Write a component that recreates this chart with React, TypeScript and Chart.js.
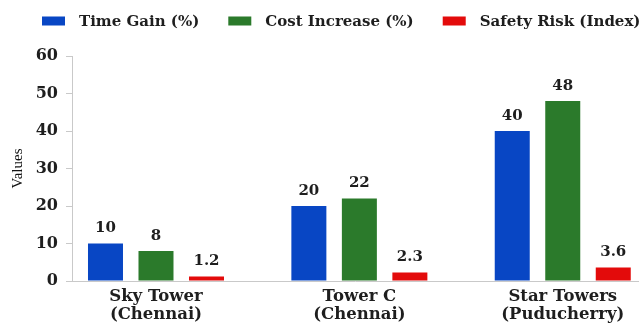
import { useEffect, useRef } from "react";
import { Chart, registerables } from "chart.js";

Chart.register(...registerables);

// Projects and their two-line axis labels
const categories: string[][] = [
  ["Sky Tower", "(Chennai)"],
  ["Tower C", "(Chennai)"],
  ["Star Towers", "(Puducherry)"],
];

const seriesNames = ["Time Gain (%)", "Cost Increase (%)", "Safety Risk (Index)"];
const timeGain = [10, 20, 40];
const costIncrease = [8, 22, 48];
const safetyRisk = [1.2, 2.3, 3.6];
const seriesColors = ["#0846c4", "#2b7a2b", "#e30b0b"];

const yMin = 0;
const yMax = 60;
const yStep = 10;

const SERIF = "'DejaVu Serif', serif";

// Value printed above each bar
const valueLabels = {
  id: "valueLabels",
  afterDatasetsDraw(chart: any) {
    const ctx = chart.ctx;
    ctx.save();
    ctx.font = `bold 15px ${SERIF}`;
    ctx.fillStyle = "#1e1e1e";
    ctx.textAlign = "center";
    ctx.textBaseline = "middle";
    chart.data.datasets.forEach((ds: any, di: number) => {
      const meta = chart.getDatasetMeta(di);
      meta.data.forEach((bar: any, i: number) => {
        const v = ds.data[i].y;
        ctx.fillText(String(v), bar.x, bar.y - 15);
      });
    });
    ctx.restore();
  },
};

// Legend row across the top: small swatch, then the series name
const topLegend = {
  id: "topLegend",
  afterDraw(chart: any) {
    const ctx = chart.ctx;
    ctx.save();
    ctx.font = `bold 15px ${SERIF}`;
    ctx.textBaseline = "middle";
    ctx.textAlign = "left";
    const boxW = 23;
    const boxH = 9;
    const textGap = 14;
    const itemGap = 29;
    const cy = 21;
    let x = 42;
    chart.data.datasets.forEach((ds: any) => {
      ctx.fillStyle = ds.backgroundColor;
      ctx.fillRect(x, cy - boxH / 2, boxW, boxH);
      x += boxW + textGap;
      ctx.fillStyle = "#1e1e1e";
      ctx.fillText(ds.label, x, cy + 1);
      x += ctx.measureText(ds.label).width + itemGap;
    });
    ctx.restore();
  },
};

export default function App() {
  const canvasRef = useRef<HTMLCanvasElement | null>(null);

  useEffect(() => {
    const canvas = canvasRef.current;
    if (!canvas) return;
    const seriesValues = [timeGain, costIncrease, safetyRisk];
    const chart = new Chart(canvas, {
      type: "bar",
      data: {
        datasets: seriesValues.map((vals, si) => ({
          label: seriesNames[si],
          data: vals.map((y, x) => ({ x, y })),
          backgroundColor: seriesColors[si],
          borderWidth: 0,
          categoryPercentage: 0.745,
          barPercentage: 0.693,
        })),
      },
      options: {
        responsive: false,
        animation: false,
        layout: { padding: { top: 56, right: 4, bottom: 0, left: 0 } },
        plugins: {
          legend: { display: false },
          tooltip: { enabled: false },
        },
        scales: {
          x: {
            type: "linear",
            min: -0.413,
            max: 2.37,
            offset: false,
            afterBuildTicks: (scale: any) => {
              scale.ticks = categories.map((_, i) => ({ value: i }));
            },
            afterFit: (scale: any) => {
              scale.height = 43;
            },
            grid: { display: false, drawTicks: false },
            border: { display: true, color: "#c9c9c9", width: 1 },
            ticks: {
              autoSkip: false,
              maxRotation: 0,
              padding: 7,
              color: "#1e1e1e",
              font: { family: SERIF, size: 16.5, weight: "bold", lineHeight: 1.09 },
              callback: (v: any) => categories[v as number] ?? "",
            },
          },
          y: {
            min: yMin,
            max: yMax,
            afterFit: (scale: any) => {
              scale.width = 72;
            },
            grid: {
              drawOnChartArea: false,
              drawTicks: true,
              tickLength: 6,
              color: "#c9c9c9",
            },
            border: { display: true, color: "#c9c9c9", width: 1 },
            ticks: {
              stepSize: yStep,
              padding: 8,
              color: "#1e1e1e",
              font: { family: SERIF, size: 16, weight: "bold" },
            },
            title: {
              display: true,
              text: "Values",
              color: "#111",
              padding: { top: 9, bottom: 0 },
              font: { family: "'Liberation Serif', serif", size: 15, lineHeight: 1.2 },
            },
          },
        },
      },
      plugins: [valueLabels, topLegend],
    });
    return () => chart.destroy();
  }, []);

  return (
    <canvas
      ref={canvasRef}
      width={642}
      height={324}
      style={{ position: "absolute", left: 0, top: 0, display: "block", background: "#fff" }}
    />
  );
}
